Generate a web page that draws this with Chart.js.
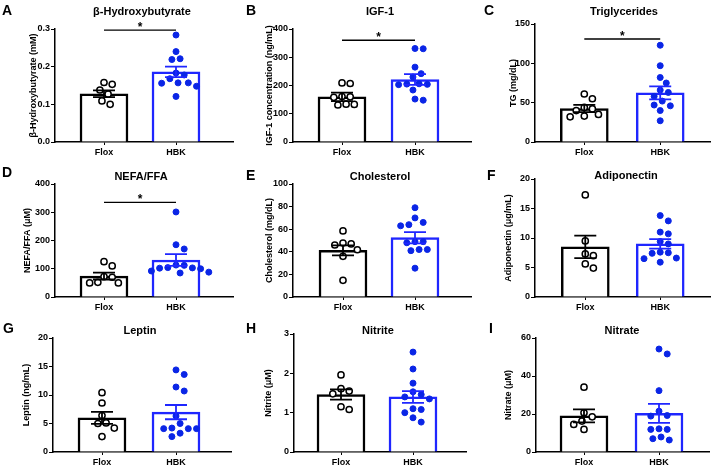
<!DOCTYPE html>
<html>
<head>
<meta charset="utf-8">
<script src="https://cdn.jsdelivr.net/npm/chart.js@4.4.0/dist/chart.umd.min.js"></script>
<style>
  body { margin: 0; background: #fff; width: 716px; height: 467px; overflow: hidden; position: relative; font-family: "Liberation Sans", Arial, sans-serif; }
  .panel { position: absolute; width: 240px; height: 158px; }
  .panel canvas { position: absolute; left: 0; top: 0; }
  .letter { position: absolute; font-weight: bold; font-size: 14px; line-height: 1; color: #000; }
  .ttl { position: absolute; font-weight: bold; font-size: 11px; line-height: 1; white-space: nowrap; color: #000; transform: translateX(-50%); }
</style>
</head>
<body>
<script>
const groups = ['Flox', 'HBK'];
const panelLetters = ['A', 'B', 'C', 'D', 'E', 'F', 'G', 'H', 'I'];
const panelTitles = ['β-Hydroxybutyrate', 'IGF-1', 'Triglycerides', 'NEFA/FFA', 'Cholesterol', 'Adiponectin', 'Leptin', 'Nitrite', 'Nitrate'];
const yTitles = ['β-Hydroxybutyrate (mM)', 'IGF-1 concentration (ng/mL)', 'TG (mg/dL)', 'NEFA/FFA (μM)', 'Cholesterol (mg/dL)', 'Adiponectin (μg/mL)', 'Leptin (ng/mL)', 'Nitrite (μM)', 'Nitrate (μM)'];
const yMax = [0.3, 400, 150, 400, 100, 20, 20, 3, 60];
const yStep = [0.1, 100, 50, 100, 20, 5, 5, 1, 20];
const yDecimals = [1, 0, 0, 0, 0, 0, 0, 0, 0];

// individual animals
const bhbFlox = [0.158, 0.153, 0.138, 0.127, 0.109, 0.100];
const bhbHbk = [0.284, 0.240, 0.221, 0.219, 0.183, 0.178, 0.168, 0.157, 0.156, 0.157, 0.148, 0.121];
const igfFlox = [209, 207, 161, 158, 160, 134, 133, 131];
const igfHbk = [331, 330, 265, 242, 230, 206, 204, 203, 205, 184, 152, 148];
const tgFlox = [61, 55, 44, 42, 40, 35, 33, 32];
const tgHbk = [123, 97, 82, 75, 66, 63, 58, 52, 47, 46, 40, 27];
const nefaFlox = [125, 110, 72, 70, 52, 50, 50];
const nefaHbk = [301, 185, 170, 113, 112, 104, 103, 102, 100, 92, 88, 85];
const cholFlox = [58.5, 47.8, 47, 46, 41.8, 36, 14.8];
const cholHbk = [79, 70, 66, 64, 63, 49, 49, 48, 42, 41, 42, 25.5];
const adipoFlox = [17.3, 9.5, 7.3, 7.0, 5.6, 4.9];
const adipoHbk = [13.8, 12.9, 11.0, 10.7, 9.4, 9.0, 7.6, 7.5, 7.4, 6.6, 6.5, 5.9];
const leptinFlox = [10.4, 8.6, 6.4, 5.1, 5.0, 4.2, 2.7];
const leptinHbk = [14.4, 13.6, 11.4, 10.7, 6.3, 5.0, 4.2, 4.1, 4.1, 4.1, 3.3, 2.7];
const nitriteFlox = [1.96, 1.61, 1.55, 1.48, 1.15, 1.08];
const nitriteHbk = [2.54, 2.11, 1.75, 1.53, 1.46, 1.40, 1.35, 1.10, 1.08, 1.00, 0.87, 0.76];
const nitrateFlox = [34.1, 20.6, 18.5, 16.3, 14.5, 11.9];
const nitrateHbk = [54.2, 51.6, 32.3, 21.5, 19.2, 18.9, 12.2, 11.9, 11.9, 7.9, 7.0, 6.3];

const floxValues = [bhbFlox, igfFlox, tgFlox, nefaFlox, cholFlox, adipoFlox, leptinFlox, nitriteFlox, nitrateFlox];
const hbkValues = [bhbHbk, igfHbk, tgHbk, nefaHbk, cholHbk, adipoHbk, leptinHbk, nitriteHbk, nitrateHbk];

// bar height (mean) and SEM: [Flox, HBK]
const barMeans = [[0.128, 0.186], [160, 221], [42.5, 62.5], [74, 131], [41.2, 52.5], [8.5, 9.0], [6.0, 7.0], [1.46, 1.40], [19, 20.3]];
const barSems = [[0.009, 0.014], [15, 19], [4.6, 8.3], [12, 21], [4.4, 5], [1.9, 0.8], [1.05, 1.25], [0.13, 0.15], [3.4, 5]];
// height of the significance bracket (null = none)
const sigLevels = [0.297, 360, 131, 335, null, null, null, null, null];

// panel geometry, px within each panel
const layout = [
  { left: 0,   top: 0,   axisX: 55, axisEnd: 233, floxX: 104, hbkX: 176, plotTop: 29, yTitleX: 34, letterX: 2,  letterY: 3,  titleX: 142, titleY: 5.7 },
  { left: 238, top: 0,   axisX: 55, axisEnd: 233, floxX: 104, hbkX: 177, plotTop: 29, yTitleX: 32, letterX: 8,  letterY: 3,  titleX: 142, titleY: 5.7 },
  { left: 476, top: 0,   axisX: 59, axisEnd: 237, floxX: 109, hbkX: 186, plotTop: 24, yTitleX: 38, letterX: 8,  letterY: 3,  titleX: 148, titleY: 5.7 },
  { left: 0,   top: 155, axisX: 55, axisEnd: 233, floxX: 104, hbkX: 176, plotTop: 29, yTitleX: 28, letterX: 2,  letterY: 10, titleX: 141, titleY: 15.7 },
  { left: 238, top: 155, axisX: 55, axisEnd: 233, floxX: 105, hbkX: 177, plotTop: 29, yTitleX: 32, letterX: 8,  letterY: 13, titleX: 142, titleY: 15.7 },
  { left: 476, top: 155, axisX: 59, axisEnd: 237, floxX: 110, hbkX: 186, plotTop: 24, yTitleX: 33, letterX: 11, letterY: 13, titleX: 150, titleY: 14.7 },
  { left: 0,   top: 310, axisX: 53, axisEnd: 231, floxX: 102, hbkX: 176, plotTop: 28, yTitleX: 27, letterX: 3,  letterY: 11, titleX: 140, titleY: 14.7 },
  { left: 238, top: 310, axisX: 56, axisEnd: 228, floxX: 103, hbkX: 175, plotTop: 24, yTitleX: 31, letterX: 8,  letterY: 11, titleX: 140, titleY: 14.7 },
  { left: 476, top: 310, axisX: 60, axisEnd: 233, floxX: 108, hbkX: 183, plotTop: 28, yTitleX: 33, letterX: 13, letterY: 11, titleX: 146, titleY: 14.7 }
];

const CANVAS_W = 240, CANVAS_H = 158, PLOT_BOTTOM = 142;
const BLUE = '#1f26ff';
const DOT_BLUE = '#0a25e6';
const lineColors = ['#000', BLUE];
const tickFont = { family: '"Liberation Sans", Arial, sans-serif', size: 9, weight: 'bold' };

// spread the dots sideways so they do not overlap (like a bee swarm)
function swarm(vals, pxY, pxX) {
  const gap = 8.2;
  const placed = [];
  const out = new Array(vals.length);
  const order = vals.map((_, i) => i).sort((a, b) => vals[b] - vals[a]);
  order.forEach(i => {
    const y = vals[i] * pxY;
    let k = 0, x = 0;
    while (true) {
      x = k === 0 ? 0 : (k % 2 ? 1 : -1) * Math.ceil(k / 2) * gap / 4;
      if (placed.every(p => Math.hypot(p[0] - x, p[1] - y) >= gap)) break;
      k++;
    }
    placed.push([x, y]);
    out[i] = x / pxX;
  });
  return out;
}

const errorBars = {
  id: 'errorBars',
  afterDatasetsDraw(chart, args, opts) {
    const { ctx, scales: { x, y } } = chart;
    ctx.save();
    opts.means.forEach((m, i) => {
      const cx = x.getPixelForValue(i);
      const hi = y.getPixelForValue(m + opts.sems[i]);
      const lo = y.getPixelForValue(m - opts.sems[i]);
      ctx.strokeStyle = lineColors[i];
      ctx.lineWidth = 1.8;
      ctx.beginPath();
      ctx.moveTo(cx, hi); ctx.lineTo(cx, lo);
      ctx.moveTo(cx - 11, hi); ctx.lineTo(cx + 11, hi);
      ctx.moveTo(cx - 11, lo); ctx.lineTo(cx + 11, lo);
      ctx.stroke();
    });
    if (opts.sig != null) {
      const sy = y.getPixelForValue(opts.sig);
      const x0 = x.getPixelForValue(0), x1 = x.getPixelForValue(1);
      ctx.strokeStyle = '#000';
      ctx.lineWidth = 1.4;
      ctx.beginPath();
      ctx.moveTo(x0, sy); ctx.lineTo(x1, sy);
      ctx.stroke();
      ctx.fillStyle = '#000';
      ctx.font = 'bold 12px "Liberation Sans", Arial, sans-serif';
      ctx.textAlign = 'center';
      ctx.textBaseline = 'alphabetic';
      ctx.fillText('*', (x0 + x1) / 2, sy + 1);
    }
    ctx.restore();
  }
};

layout.forEach((L, p) => {
  const panel = document.createElement('div');
  panel.className = 'panel';
  panel.style.left = L.left + 'px';
  panel.style.top = L.top + 'px';
  document.body.appendChild(panel);

  const canvas = document.createElement('canvas');
  canvas.width = CANVAS_W;
  canvas.height = CANVAS_H;
  panel.appendChild(canvas);

  const letter = document.createElement('div');
  letter.className = 'letter';
  letter.textContent = panelLetters[p];
  letter.style.left = L.letterX + 'px';
  letter.style.top = L.letterY + 'px';
  panel.appendChild(letter);

  const ttl = document.createElement('div');
  ttl.className = 'ttl';
  ttl.textContent = panelTitles[p];
  ttl.style.left = L.titleX + 'px';
  ttl.style.top = L.titleY + 'px';
  panel.appendChild(ttl);

  const unit = L.hbkX - L.floxX;
  const xMin = -(L.floxX - L.axisX) / unit;
  const xMax = 1 + (L.axisEnd - L.hbkX) / unit;
  const pxY = (PLOT_BOTTOM - L.plotTop) / yMax[p];
  const jF = swarm(floxValues[p], pxY, unit);
  const jH = swarm(hbkValues[p], pxY, unit);

  new Chart(canvas.getContext('2d'), {
    type: 'bar',
    data: {
      datasets: [
        {
          type: 'scatter',
          order: 0,
          data: floxValues[p].map((v, i) => ({ x: 0 + jF[i], y: v })),
          pointRadius: 3.1,
          pointBackgroundColor: '#fff',
          pointBorderColor: '#000',
          pointBorderWidth: 1.5
        },
        {
          type: 'scatter',
          order: 0,
          data: hbkValues[p].map((v, i) => ({ x: 1 + jH[i], y: v })),
          pointRadius: 3,
          pointBackgroundColor: DOT_BLUE,
          pointBorderColor: DOT_BLUE,
          pointBorderWidth: 1
        },
        {
          order: 1,
          data: barMeans[p].map((m, i) => ({ x: i, y: m })),
          backgroundColor: '#fff',
          borderColor: lineColors,
          borderWidth: 2.5,
          barThickness: 48
        }
      ]
    },
    options: {
      responsive: false,
      animation: false,
      events: [],
      layout: { padding: { top: L.plotTop, right: CANVAS_W - L.axisEnd, bottom: 0, left: 0 } },
      plugins: {
        legend: { display: false },
        tooltip: { enabled: false },
        errorBars: { means: barMeans[p], sems: barSems[p], sig: sigLevels[p] }
      },
      scales: {
        x: {
          type: 'linear',
          offset: false,
          bounds: 'data',
          min: xMin,
          max: xMax,
          afterBuildTicks: s => { s.ticks = [{ value: 0 }, { value: 1 }]; },
          afterFit: s => { s.height = CANVAS_H - PLOT_BOTTOM; },
          ticks: { callback: v => groups[v], font: tickFont, color: '#000', padding: 2, maxRotation: 0 },
          grid: { offset: false, drawOnChartArea: false, tickLength: 3, color: '#000', lineWidth: 1 },
          border: { color: '#000', width: 1.5 }
        },
        y: {
          min: 0,
          max: yMax[p],
          afterFit: s => { s.width = L.axisX; },
          ticks: { stepSize: yStep[p], callback: v => v.toFixed(yDecimals[p]), font: tickFont, color: '#000', padding: 1 },
          grid: { drawOnChartArea: false, tickLength: 4, color: '#000', lineWidth: 1 },
          border: { color: '#000', width: 1.5 },
          title: {
            display: true,
            text: yTitles[p],
            color: '#000',
            font: { family: '"Liberation Sans", Arial, sans-serif', size: 9, weight: 'bold' },
            padding: { top: L.yTitleX - 5.4, bottom: 0 }
          }
        }
      }
    },
    plugins: [errorBars]
  });
});
</script>
</body>
</html>
